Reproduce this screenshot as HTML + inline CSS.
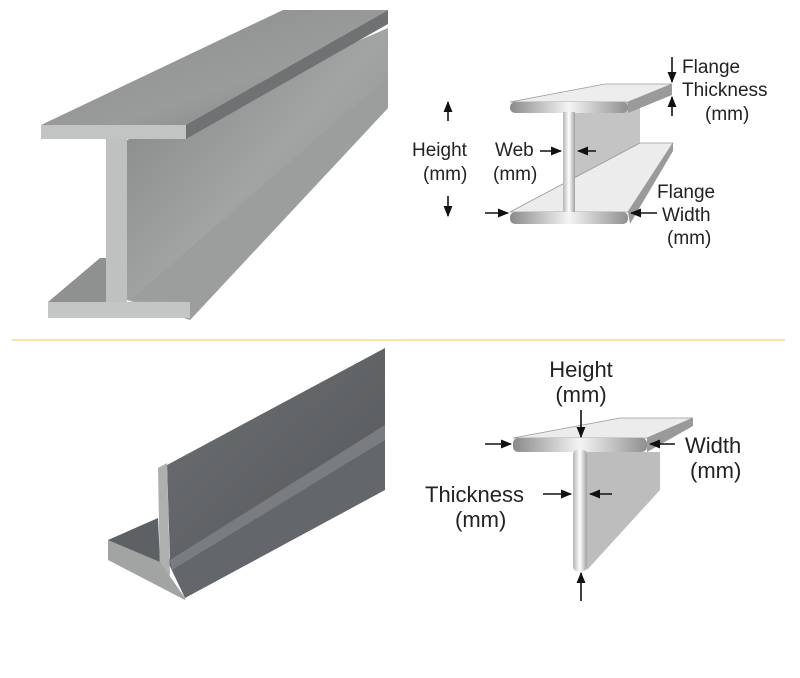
<!DOCTYPE html>
<html><head><style>body{margin:0;background:#fff}svg{display:block}text{font-family:"Liberation Sans",sans-serif;fill:#222}</style></head><body>
<svg width="800" height="678" viewBox="0 0 800 678" xmlns="http://www.w3.org/2000/svg">
<defs>
<linearGradient id="m1" x1="0" y1="0" x2="1" y2="1"><stop offset="0" stop-color="#808283"/><stop offset=".5" stop-color="#a2a4a4"/><stop offset="1" stop-color="#8a8c8c"/></linearGradient>
<linearGradient id="m3" x1="0" y1="0" x2="1" y2="1"><stop offset="0" stop-color="#8a8c8c"/><stop offset=".6" stop-color="#9a9b9b"/><stop offset="1" stop-color="#7d8081"/></linearGradient>
<linearGradient id="t1" x1="0" y1="0" x2="1" y2="1"><stop offset="0" stop-color="#6d7072"/><stop offset="1" stop-color="#55585a"/></linearGradient>
<linearGradient id="fl" x1="0" y1="0" x2="1" y2="0"><stop offset="0" stop-color="#8a8a8a"/><stop offset=".5" stop-color="#f4f4f4"/><stop offset="1" stop-color="#8f8f8f"/></linearGradient>
<linearGradient id="wb" x1="0" y1="0" x2="1" y2="0"><stop offset="0" stop-color="#b5b5b5"/><stop offset=".5" stop-color="#ffffff"/><stop offset="1" stop-color="#a0a0a0"/></linearGradient>
<marker id="a" viewBox="0 0 10 10" refX="9" refY="5" markerWidth="7" markerHeight="7" orient="auto"><path d="M0,1L10,5L0,9z" fill="#111"/></marker>
</defs>
<!-- I-beam photo -->
<polygon points="127,140 388,28 388,108 190,320 127,300" fill="url(#m1)"/>
<polygon points="130,300 388,77 388,108 190,320 190,302" fill="#9c9e9e"/>
<polygon points="41,125 283,10 388,10 186,125" fill="url(#m3)"/>
<polygon points="186,125 388,10 388,24 186,139" fill="#6f7273"/>
<rect x="41" y="125" width="145" height="14" fill="#c2c4c4"/>
<polygon points="48,302 100,258 108,258 108,302" fill="#8f9191"/>
<rect x="106" y="139" width="21" height="165" fill="#bfc1c1"/>
<rect x="48" y="302" width="142" height="16" fill="#c4c6c6"/>
<!-- separator -->
<line x1="12" y1="340" x2="785" y2="340" stroke="#f6d98f" stroke-width="1.5"/>
<!-- T photo -->
<polygon points="167,560 385,440 385,490 185,598" fill="#63666a"/>
<polygon points="108,540 158,518 160,562 108,555" fill="#5e6163"/>
<polygon points="167,465 385,348 385,440 170,560" fill="url(#t1)"/>
<polygon points="170,560 385,425 385,440 172,570" fill="#7a7d7f"/>
<polygon points="158,468 167,463 170,575 160,580" fill="#aeb0b0"/>
<polygon points="108,540 160,562 185,598 185,600 108,560" fill="#a2a4a4"/>
<!-- I-beam diagram -->
<polygon points="575,113 640,95 640,143 575,178" fill="#c4c4c4"/>
<polygon points="510,212 640,143 673,143 628,212" fill="#ececec" stroke="#999" stroke-width=".8"/>
<polygon points="628,212 673,143 673,151 630,224" fill="#9a9a9a"/>
<polygon points="510,102 605,84 672,84 628,102" fill="#ededed" stroke="#999" stroke-width=".8"/>
<polygon points="628,102 672,84 672,95 628,113" fill="#9a9a9a"/>
<rect x="510" y="102" width="118" height="11" rx="5" fill="url(#fl)"/>
<rect x="563" y="112" width="12" height="101" fill="url(#wb)"/>
<rect x="510" y="212" width="118" height="12" rx="5" fill="url(#fl)"/>
<g stroke="#111" stroke-width="1.6" fill="none" marker-end="url(#a)">
<line x1="448" y1="121" x2="448" y2="102"/><line x1="448" y1="196" x2="448" y2="216"/>
<line x1="540" y1="151" x2="561" y2="151"/><line x1="596" y1="151" x2="578" y2="151"/>
<line x1="485" y1="213" x2="508" y2="213"/><line x1="657" y1="213" x2="631" y2="213"/>
<line x1="672" y1="57" x2="672" y2="82"/><line x1="672" y1="116" x2="672" y2="97"/>
</g>
<g font-size="19">
<text x="682" y="73">Flange</text><text x="682" y="96">Thickness</text><text x="705" y="120">(mm)</text>
<text x="412" y="156">Height</text><text x="423" y="180">(mm)</text>
<text x="495" y="156">Web</text><text x="493" y="180">(mm)</text>
<text x="657" y="198">Flange</text><text x="662" y="221">Width</text><text x="667" y="244">(mm)</text>
</g>
<!-- T diagram -->
<polygon points="587,452 660,452 660,490 587,570" fill="#bdbdbd"/>
<polygon points="513,438 620,418 693,418 647,438" fill="#ececec" stroke="#999" stroke-width=".8"/>
<polygon points="647,438 693,418 693,426 647,452" fill="#9a9a9a"/>
<rect x="513" y="438" width="134" height="14" rx="5" fill="url(#fl)"/>
<rect x="573" y="450" width="14" height="121" rx="4" fill="url(#wb)"/>
<g stroke="#111" stroke-width="1.6" fill="none" marker-end="url(#a)">
<line x1="581" y1="410" x2="581" y2="437"/><line x1="581" y1="601" x2="581" y2="573"/>
<line x1="485" y1="444" x2="511" y2="444"/><line x1="675" y1="444" x2="650" y2="444"/>
<line x1="543" y1="494" x2="571" y2="494"/><line x1="612" y1="494" x2="590" y2="494"/>
</g>
<g font-size="22">
<text x="581" y="377" text-anchor="middle">Height</text><text x="581" y="402" text-anchor="middle">(mm)</text>
<text x="685" y="453">Width</text><text x="690" y="478">(mm)</text>
<text x="425" y="502">Thickness</text><text x="455" y="527">(mm)</text>
</g>
</svg>
</body></html>
